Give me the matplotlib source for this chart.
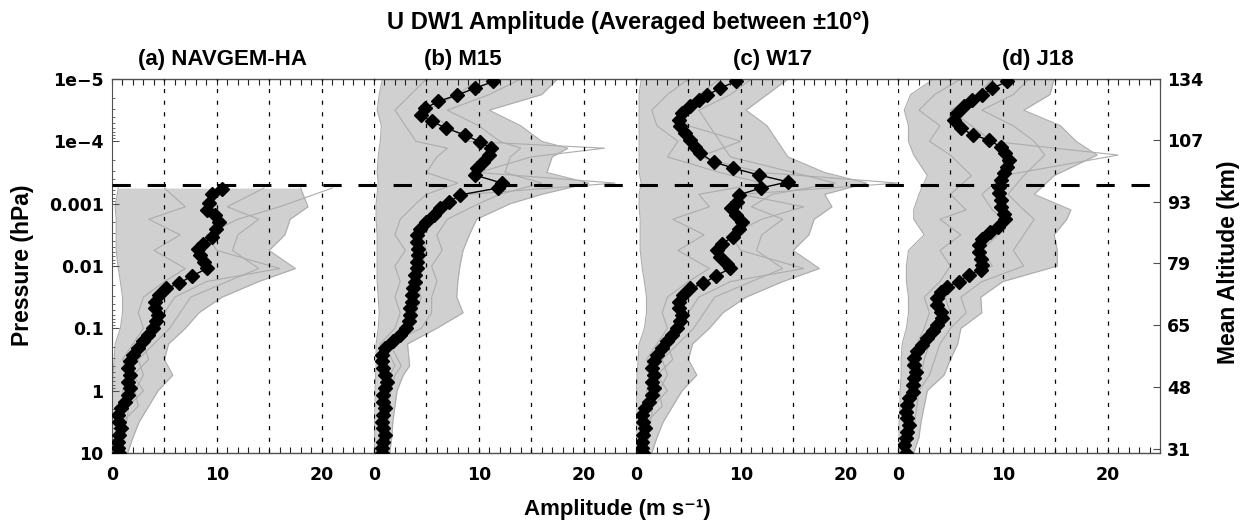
import numpy as np
import matplotlib
matplotlib.use('Agg')
import matplotlib.pyplot as plt
from matplotlib.lines import Line2D
import matplotlib.transforms as mtransforms
from matplotlib.ticker import FixedLocator, NullLocator, LogLocator, NullFormatter

# ---------------- data (log10 pressure in hPa, amplitude in m/s) ----------------
panel_titles = ['(a) NAVGEM-HA', '(b) M15', '(c) W17', '(d) J18']
x_ticks = [0, 10, 20]
y_ticks = [1e-5, 1e-4, 1e-3, 1e-2, 1e-1, 1, 10]
y_ticklabels = ['1e\u22125', '1e\u22124', '0.001', '0.01', '0.1', '1', '10']
alt_labels = ['134', '107', '93', '79', '65', '48', '31']
alt_pressure = [1e-5, 9.5e-5, 9.3e-4, 9.1e-3, 8.9e-2, 0.87, 8.5]
dashed_pressure = 5e-4

# mean profiles (black diamonds)
a_logp = [-3.23, -3.155, -3.005, -2.90, -2.82, -2.71, -2.60, -2.47, -2.36, -2.28,
          -2.18, -2.07, -1.96, -1.84, -1.72, -1.64, -1.53, -1.43, -1.32, -1.21,
          -1.11, -1.0, -0.89, -0.79, -0.68, -0.57, -0.47, -0.36, -0.25, -0.14,
          -0.04, 0.07, 0.18, 0.28, 0.39, 0.50, 0.60, 0.71, 0.82, 0.92, 1.0]
a_amp = [10.5, 9.5, 9.3, 9.1, 9.8, 10.2, 9.9, 9.5, 8.7, 8.2,
         8.4, 8.8, 9.1, 7.6, 6.4, 5.2, 4.5, 4.1, 4.1, 4.4,
         4.2, 3.9, 3.4, 3.0, 2.5, 2.0, 1.7, 1.5, 1.7, 1.5,
         1.7, 1.5, 1.2, 0.9, 0.6, 0.7, 0.9, 0.7, 0.6, 0.6, 0.7]

b_logp = [-4.96, -4.85, -4.74, -4.64, -4.53, -4.42, -4.32, -4.21, -4.10, -3.99,
          -3.89, -3.78, -3.67, -3.57, -3.46, -3.33, -3.25, -3.14, -3.03, -2.93,
          -2.82, -2.71, -2.60, -2.50, -2.39, -2.28, -2.18, -2.07, -1.96, -1.86,
          -1.75, -1.64, -1.53, -1.43, -1.32, -1.21, -1.11, -1.0, -0.89, -0.79,
          -0.68, -0.57, -0.47, -0.36, -0.25, -0.14, -0.04, 0.07, 0.18, 0.28,
          0.39, 0.50, 0.60, 0.71, 0.82, 0.92, 1.0]
b_amp = [11.4, 9.6, 7.9, 6.1, 4.9, 4.5, 5.5, 6.9, 8.7, 10.1,
         11.2, 11.0, 10.4, 9.8, 9.6, 12.2, 11.8, 8.2, 7.2, 6.3,
         5.7, 5.0, 4.4, 4.1, 4.1, 4.2, 4.2, 4.1, 4.1, 3.9,
         3.9, 3.75, 3.6, 3.6, 3.4, 3.4, 3.3, 3.1, 2.5, 1.8,
         1.05, 0.75, 0.75, 0.9, 1.05, 1.2, 1.05, 0.9, 0.9, 1.05,
         0.9, 0.75, 0.9, 1.05, 0.9, 0.75, 0.75]

c_logp = [-4.96, -4.85, -4.74, -4.66, -4.56, -4.45, -4.34, -4.24, -4.13, -4.02,
          -3.91, -3.81, -3.67, -3.57, -3.46, -3.35, -3.25,
          -3.14, -3.03, -2.93, -2.82, -2.71, -2.60, -2.47, -2.36, -2.26, -2.15,
          -2.04, -1.96, -1.84, -1.72, -1.64, -1.53, -1.43, -1.32, -1.21, -1.11,
          -1.0, -0.89, -0.79, -0.68, -0.57, -0.47, -0.36, -0.25, -0.14, -0.04,
          0.07, 0.18, 0.28, 0.39, 0.50, 0.60, 0.71, 0.82, 0.92, 1.0]
c_amp = [9.5, 8.0, 6.8, 6.0, 5.2, 4.4, 4.1, 4.2, 4.7, 5.2,
         5.65, 6.1, 7.4, 9.3, 11.7, 14.5, 11.9,
         9.8, 9.6, 9.1, 9.5, 10.1, 9.8, 9.3, 8.2, 7.7, 8.0,
         8.7, 9.0, 7.6, 6.4, 5.2, 4.5, 4.1, 4.1, 4.4, 4.2,
         3.9, 3.4, 3.0, 2.5, 2.0, 1.7, 1.5, 1.7, 1.5, 1.7,
         1.5, 1.2, 0.9, 0.6, 0.7, 0.9, 0.7, 0.6, 0.6, 0.7]

d_logp = [-4.96, -4.85, -4.74, -4.66, -4.56, -4.45, -4.34, -4.21, -4.10, -4.02,
          -3.91, -3.81, -3.70, -3.59, -3.49, -3.38, -3.27, -3.17, -3.06, -2.95,
          -2.84, -2.76, -2.63, -2.55, -2.44, -2.34, -2.23, -2.12, -2.02, -1.94,
          -1.86, -1.75, -1.67, -1.59, -1.48, -1.37, -1.27, -1.16, -1.05, -0.95,
          -0.84, -0.73, -0.63, -0.52, -0.41, -0.30, -0.20, -0.09, 0.02, 0.12,
          0.23, 0.34, 0.44, 0.55, 0.66, 0.76, 0.87, 1.0]
d_amp = [10.4, 9.0, 8.0, 7.1, 6.3, 5.65, 5.3, 6.0, 7.2, 8.7,
         9.8, 10.25, 10.6, 10.4, 10.1, 9.8, 9.6, 9.6, 9.8, 9.8,
         10.1, 10.25, 9.5, 8.8, 8.0, 7.7, 7.7, 7.9, 8.0, 7.9,
         6.8, 5.8, 4.7, 4.1, 3.75, 3.75, 4.1, 4.2, 3.75, 3.3,
         2.8, 2.3, 1.85, 1.5, 1.5, 1.7, 1.5, 1.4, 1.4, 1.05,
         0.9, 0.75, 0.9, 1.05, 0.9, 0.75, 0.6, 0.75]

# individual (gray) profiles: envelope of the ensemble plus a few sample members
a_env_logp = [1.0, 0.75, 0.5, 0.25, 0.0, -0.25, -0.5, -0.75, -1.0, -1.25,
              -1.5, -1.75, -1.96, -2.25, -2.5, -2.75, -2.95, -3.25]
a_lo = [0.0, 0.0, 0.0, 0.0, 0.05, 0.1, 0.2, 0.3, 0.8, 1.0,
        1.0, 0.8, 0.6, 0.4, 0.4, 0.4, 0.3, 0.6]
a_hi = [1.5, 2.0, 2.6, 3.5, 4.4, 5.8, 5.0, 5.4, 7.0, 8.3,
        10.5, 14.0, 17.5, 15.0, 16.5, 17.0, 18.7, 18.0]
a_g1 = [0.5, 0.6, 0.9, 1.2, 1.0, 1.5, 1.0, 2.0, 3.0, 2.5,
        3.0, 5.0, 7.0, 4.0, 6.5, 3.5, 7.0, 5.0]
a_g2 = [1.0, 1.2, 1.0, 2.5, 2.2, 3.0, 2.5, 4.0, 5.5, 6.5,
        7.5, 11.0, 14.0, 11.5, 12.0, 14.0, 11.0, 14.5]
a_g3 = [0.8, 0.8, 1.4, 1.6, 3.0, 2.0, 3.5, 3.0, 4.5, 5.0,
        6.0, 9.0, 16.0, 10.0, 9.0, 12.0, 16.0, 21.0]

b_env_logp = [1.0, 0.75, 0.5, 0.25, 0.0, -0.25, -0.4, -0.75, -1.0, -1.25,
              -1.5, -1.75, -2.0, -2.25, -2.5, -2.75, -3.0, -3.15, -3.33, -3.5,
              -3.75, -3.89, -4.0, -4.25, -4.5, -4.75, -5.0]
b_lo = [0.05, 0.05, 0.05, 0.1, 0.1, 0.15, 0.2, 0.2, 0.4, 0.5,
        0.4, 0.3, 0.3, 0.3, 0.3, 0.2, 0.2, 0.3, 0.4, 0.3,
        0.4, 0.5, 0.6, 0.7, 0.3, 0.5, 0.8]
b_hi = [1.5, 1.7, 1.8, 2.0, 2.2, 2.8, 3.4, 3.2, 6.0, 8.5,
        7.9, 8.0, 8.2, 8.5, 9.1, 9.8, 13.0, 16.0, 20.5, 16.5,
        17.0, 18.5, 16.0, 14.0, 11.0, 16.0, 17.5]
b_g1 = [0.4, 0.5, 0.6, 0.8, 0.7, 0.9, 1.0, 0.6, 2.0, 2.5,
        2.0, 2.5, 2.0, 3.0, 2.0, 2.5, 4.0, 5.0, 8.0, 5.0,
        6.0, 7.0, 4.0, 3.0, 2.0, 3.5, 5.0]
b_g2 = [1.0, 1.2, 1.4, 1.3, 1.6, 2.0, 2.6, 1.5, 4.5, 5.5,
        5.5, 6.0, 5.5, 6.5, 6.0, 7.0, 10.0, 12.0, 16.0, 12.5,
        13.0, 14.0, 12.0, 10.0, 7.0, 11.0, 14.0]
b_g3 = [0.7, 0.8, 1.0, 1.6, 1.2, 1.5, 2.0, 1.0, 3.0, 4.0,
        4.5, 4.0, 4.5, 5.0, 4.5, 5.0, 7.0, 9.0, 23.0, 10.0,
        15.0, 22.0, 9.0, 7.0, 5.0, 8.0, 10.0]

c_env_logp = [1.0, 0.75, 0.5, 0.25, 0.0, -0.25, -0.5, -0.75, -1.0, -1.25,
              -1.5, -1.75, -1.96, -2.25, -2.5, -2.75, -2.95, -3.15, -3.33, -3.5,
              -3.75, -4.0, -4.25, -4.5, -4.75, -5.0]
c_lo = [0.0, 0.0, 0.0, 0.0, 0.05, 0.1, 0.2, 0.3, 0.8, 1.0,
        1.0, 0.8, 0.6, 0.4, 0.4, 0.4, 0.3, 0.3, 0.5, 0.3,
        0.3, 0.3, 0.3, 0.3, 0.3, 0.5]
c_hi = [1.5, 2.0, 2.6, 3.5, 4.4, 5.8, 5.0, 5.4, 7.0, 8.3,
        10.5, 14.0, 17.5, 15.0, 16.5, 17.0, 18.7, 18.0, 22.0, 18.0,
        14.5, 13.5, 12.5, 10.5, 12.5, 14.5]
c_g1 = [0.5, 0.6, 0.9, 1.2, 1.0, 1.5, 1.0, 2.0, 3.0, 2.5,
        3.0, 5.0, 7.0, 4.0, 6.5, 3.5, 7.0, 6.0, 12.0, 8.0,
        3.0, 4.0, 2.0, 1.5, 3.0, 5.0]
c_g2 = [1.0, 1.2, 1.0, 2.5, 2.2, 3.0, 2.5, 4.0, 5.5, 6.5,
        7.5, 11.0, 14.0, 11.5, 12.0, 14.0, 11.0, 13.0, 19.0, 15.0,
        9.0, 8.0, 7.0, 6.0, 9.0, 11.0]
c_g3 = [0.8, 0.8, 1.4, 1.6, 3.0, 2.0, 3.5, 3.0, 4.5, 5.0,
        6.0, 9.0, 16.0, 10.0, 9.0, 12.0, 16.0, 10.0, 25.0, 12.0,
        6.0, 10.0, 5.0, 4.0, 6.0, 8.0]

d_env_logp = [1.0, 0.75, 0.5, 0.25, 0.0, -0.25, -0.5, -0.75, -1.0, -1.25,
              -1.5, -1.75, -2.0, -2.25, -2.5, -2.75, -2.9, -3.15, -3.45, -3.78,
              -4.0, -4.25, -4.5, -4.75, -5.0]
d_lo = [0.1, 0.1, 0.1, 0.2, 0.2, 0.3, 0.3, 0.4, 0.8, 1.0,
        1.0, 0.8, 0.8, 1.0, 2.5, 1.5, 1.5, 2.0, 2.8, 1.5,
        1.0, 1.0, 0.6, 1.2, 3.4]
d_hi = [1.5, 2.0, 2.2, 2.5, 2.8, 4.4, 5.0, 5.7, 6.0, 8.0,
        7.9, 10.0, 15.2, 15.2, 14.9, 16.1, 16.5, 13.0, 14.9, 19.0,
        17.0, 15.5, 12.0, 14.5, 14.9]
d_g1 = [0.4, 0.5, 0.6, 0.8, 1.0, 1.2, 1.0, 1.8, 2.5, 3.0,
        2.5, 4.0, 5.0, 4.0, 6.0, 4.0, 6.5, 5.0, 7.0, 5.0,
        3.0, 4.0, 2.0, 3.5, 6.0]
d_g2 = [1.0, 1.3, 1.6, 1.8, 2.0, 3.0, 3.5, 4.0, 5.0, 6.5,
        6.0, 8.0, 12.0, 11.0, 12.0, 13.0, 12.0, 10.5, 12.0, 14.0,
        13.0, 11.0, 8.0, 11.0, 12.5]
d_g3 = [0.7, 0.9, 1.2, 1.4, 1.6, 2.2, 2.5, 3.0, 4.0, 5.0,
        4.5, 6.0, 9.0, 8.0, 9.5, 10.0, 9.0, 8.0, 10.0, 21.0,
        9.0, 7.0, 5.0, 7.5, 9.0]

means = [(a_logp, a_amp), (b_logp, b_amp), (c_logp, c_amp), (d_logp, d_amp)]
envs = [(a_env_logp, a_lo, a_hi), (b_env_logp, b_lo, b_hi),
        (c_env_logp, c_lo, c_hi), (d_env_logp, d_lo, d_hi)]
members = [(a_g1, a_g2, a_g3), (b_g1, b_g2, b_g3), (c_g1, c_g2, c_g3), (d_g1, d_g2, d_g3)]

# ---------------- figure ----------------
plt.rcParams['font.family'] = ['DejaVu Sans']
TFONT = ['Liberation Sans', 'DejaVu Sans']
fig = plt.figure(figsize=(12.5, 5.24), dpi=100)
L, B = 112 / 1250, 1 - 453 / 524
W, H = 262 / 1250, 374 / 524
SPC = '#505050'
GRAY = '#acacac'
FILL = '#d0d0d0'

axes = []
for i in range(4):
    ax = fig.add_axes([L + i * W, B, W, H])
    axes.append(ax)
    ax.set_yscale('log')
    ax.set_xlim(0, 25)
    ax.set_ylim(10, 1e-5)

    ep, lo, hi = envs[i]
    pe = 10 ** np.array(ep)
    ax.fill_betweenx(pe, lo, hi, color=FILL, lw=0, zorder=1)
    ax.plot(lo, pe, color=GRAY, lw=0.8, zorder=1.5)
    ax.plot(hi, pe, color=GRAY, lw=0.8, zorder=1.5)
    for g in members[i]:
        ax.plot(g, pe, color=GRAY, lw=0.8, zorder=1.5)

    grid_x = [5, 10, 15, 20] if i == 0 else [0, 5, 10, 15, 20]
    for gx in grid_x:
        ax.axvline(gx, color='k', lw=0.9, ls=(0, (3.3, 6.0)), zorder=3)

    mp, ma = means[i]
    ax.plot(ma, 10 ** np.array(mp), color='k', lw=1.0, marker='D', ms=7.5,
            mfc='k', mec='k', zorder=4)

    for s in ['top', 'bottom']:
        ax.spines[s].set_color(SPC)
        ax.spines[s].set_linewidth(1.0)
    ax.spines['left'].set_visible(i == 0)
    ax.spines['right'].set_visible(i == 3)
    ax.spines['left'].set_color(SPC)
    ax.spines['right'].set_color(SPC)

    ax.xaxis.set_major_locator(FixedLocator(x_ticks))
    ax.xaxis.set_minor_locator(FixedLocator(list(range(0, 26))))
    ax.tick_params(axis='x', which='both', direction='in', top=True, bottom=True,
                   length=4, width=0.8, color='#222222', labelsize=12.5, pad=9)
    for lab in ax.get_xticklabels():
        lab.set_fontweight('bold')

    if i == 0:
        ax.yaxis.set_major_locator(FixedLocator(y_ticks))
        ax.set_yticklabels(y_ticklabels)
        ax.yaxis.set_minor_locator(LogLocator(base=10, subs=np.arange(2, 10), numticks=20))
        ax.yaxis.set_minor_formatter(NullFormatter())
        ax.tick_params(axis='y', which='major', direction='in', length=5, width=0.8,
                       color=SPC, labelsize=12.5, pad=6, right=False)
        ax.tick_params(axis='y', which='minor', direction='in', length=2.5, width=0.6,
                       color=SPC, right=False)
        for lab in ax.get_yticklabels():
            lab.set_fontweight('bold')
    else:
        ax.yaxis.set_major_locator(NullLocator())
        ax.yaxis.set_minor_locator(NullLocator())
        ax.tick_params(axis='y', which='both', left=False, right=False, labelleft=False)

# right altitude axis
axr = axes[3].twinx()
axr.set_yscale('log')
axr.set_ylim(10, 1e-5)
for s in ['top', 'bottom', 'left']:
    axr.spines[s].set_visible(False)
axr.spines['right'].set_color(SPC)
axr.yaxis.set_major_locator(FixedLocator(alt_pressure))
axr.yaxis.set_minor_locator(NullLocator())
axr.set_yticklabels(alt_labels)
axr.tick_params(axis='y', which='major', direction='in', length=5, width=0.8,
                color=SPC, labelsize=12.5, pad=5)
for lab in axr.get_yticklabels():
    lab.set_fontweight('bold')

# thick dashed horizontal line across all panels
trans = mtransforms.blended_transform_factory(fig.transFigure, axes[0].transData)
fig.add_artist(Line2D([L, L + 4 * W], [dashed_pressure, dashed_pressure], transform=trans,
                      color='k', lw=2.2, ls=(0, (6, 5.5)), zorder=10))

# texts
fig.text(628 / 1250, 1 - 22 / 524, 'U DW1 Amplitude (Averaged between \u00b110\u00b0)',
         ha='center', va='center', fontsize=17, fontweight='bold', family=TFONT)
title_x = [223, 463, 773, 1038]
for t, tx in zip(panel_titles, title_x):
    fig.text(tx / 1250, 1 - 60 / 524, t, ha='center', va='center', fontsize=16,
             fontweight='bold', family=TFONT)
fig.text(617 / 1250, 1 - 509 / 524, 'Amplitude (m s\u207b\u00b9)', ha='center', va='center',
         fontsize=16, fontweight='bold', family=TFONT)
fig.text(23 / 1250, 1 - 265 / 524, 'Pressure (hPa)', ha='center', va='center',
         rotation=90, fontsize=16.5, fontweight='bold', family=TFONT)
fig.text(1228 / 1250, 1 - 262 / 524, 'Mean Altitude (km)', ha='center', va='center',
         rotation=90, fontsize=16.5, fontweight='bold', family=TFONT)

fig.savefig('out.png', dpi=100)
